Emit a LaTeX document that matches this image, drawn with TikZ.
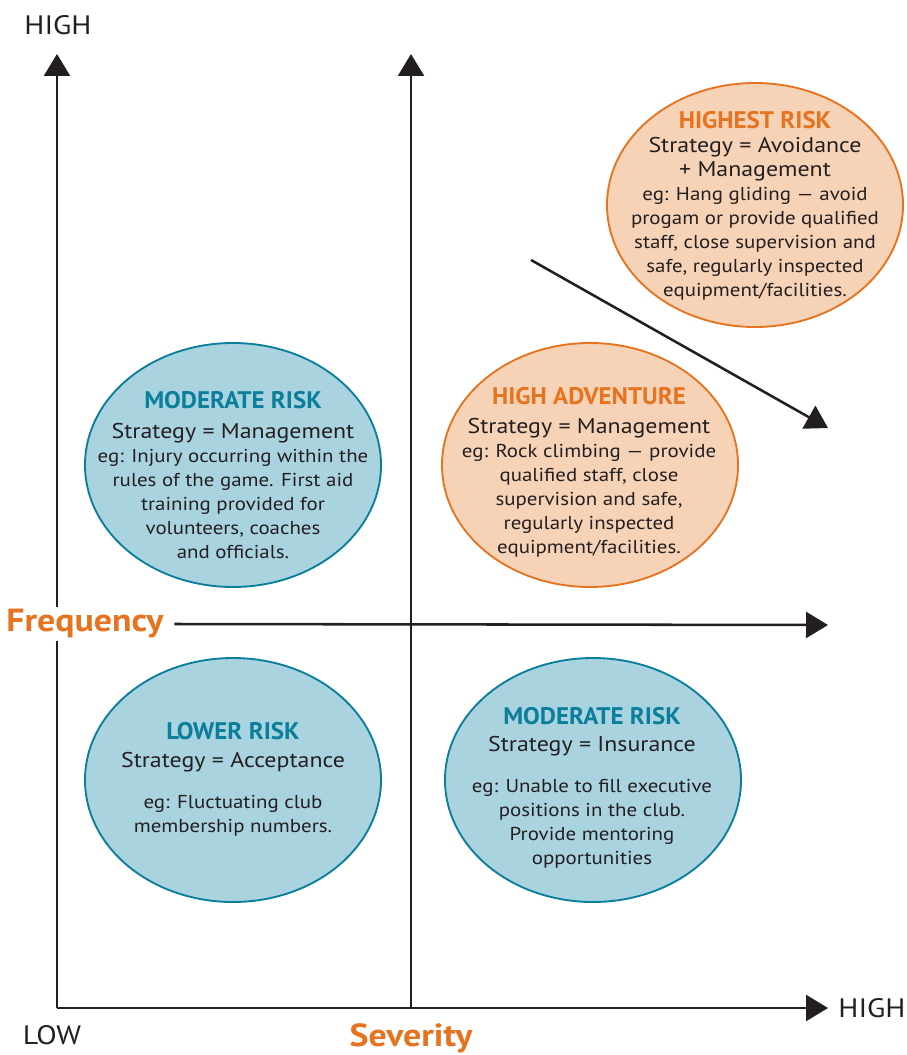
\documentclass[tikz,border=0pt]{standalone}
\usepackage{fontspec}
\setmainfont{PT Sans}[FakeStretch=1.12]
\newfontfamily\headfont{PT Sans}[FakeStretch=1.04]
\usetikzlibrary{shapes.geometric,arrows.meta}

\definecolor{zoneblue}{RGB}{170,211,224}
\definecolor{zonebluedark}{RGB}{10,126,155}
\definecolor{zoneorange}{RGB}{246,211,182}
\definecolor{zoneorangedark}{RGB}{229,115,31}
\definecolor{inkdark}{RGB}{35,31,32}

\newcommand{\headtxt}[1]{{\headfont\fontsize{18}{20}\selectfont\bfseries #1}}
\newcommand{\stratxt}[1]{{\fontsize{16}{19}\selectfont #1}}

\tikzset{
  riskblob/.style={ellipse, minimum width=222pt, minimum height=183pt, inner sep=0pt, line width=1.4pt},
  bluezone/.style={riskblob, fill=zoneblue, draw=zonebluedark},
  orangezone/.style={riskblob, fill=zoneorange, draw=zoneorangedark},
  zonetext/.style={align=center, text=inkdark, font=\fontsize{14}{18}\selectfont, inner sep=0pt},
  axisline/.style={draw=inkdark, line width=1.9pt, -{Triangle[length=16.5pt,width=19.5pt]}},
  endlabel/.style={text=inkdark, font=\fontsize{20}{22}\selectfont, inner sep=0pt},
  axistitle/.style={text=zoneorangedark, font=\fontsize{24}{26}\selectfont\bfseries, inner sep=2pt}
}

\begin{document}
\begin{tikzpicture}[x=0.75pt,y=0.75pt,yscale=-1,xscale=1]
    \useasboundingbox (0,0) rectangle (906,1055);

    % Axes points
    \coordinate (origin) at (57,1008);
    \coordinate (midbase) at (411,1008);
    \coordinate (freqtip) at (57,54);
    \coordinate (midtip) at (411,54);
    \coordinate (sevtip) at (828,1008);
    \coordinate (crosstip) at (828,625);
    \coordinate (trendstart) at (531,260);
    \coordinate (trendend) at (828,428);

    % Zones
    \node[bluezone] (moderatetop) at (233,465) {};
    \node[bluezone] (lowerrisk) at (233,780) {};
    \node[orangezone] (highadventure) at (590,465) {};
    \node[bluezone] (moderatelow) at (593,780) {};
    \node[orangezone] (highestrisk) at (755,205) {};

    % Axes
    \draw[axisline] (origin) -- (freqtip);
    \draw[axisline] (midbase) -- (midtip);
    \draw[axisline] (origin) -- (sevtip);
    \node[axistitle, fill=white] (frequency) at (85,624) {Frequency};
    \draw[axisline] (frequency.east) ++(8,0) coordinate (crossstart) (crossstart) -- (crosstip);
    \draw[axisline] (trendstart) -- (trendend);

    % Axis labels
    \node[endlabel] (highfreq) at (58,25) {HIGH};
    \node[endlabel] (lowlabel) at (52,1035) {LOW};
    \node[endlabel] (highsev) at (872,1008) {HIGH};
    \node[axistitle] (severity) at (411,1038) {Severity};

    % Zone texts
    \node[zonetext] (highesttxt) at (755,206) {\headtxt{\textcolor{zoneorangedark}{HIGHEST RISK}}\\
      \stratxt{Strategy = Avoidance}\\
      \stratxt{+ Management}\\
      eg: Hang gliding — avoid\\
      progam or provide qualified\\
      staff, close supervision and\\
      safe, regularly inspected\\
      equipment/facilities.};
    \node[zonetext] (moderatetoptxt) at (233,475) {\headtxt{\textcolor{zonebluedark}{MODERATE RISK}}\\[4pt]
      \stratxt{Strategy = Management}\\
      eg: Injury occurring within the\\
      rules of the game. First aid\\
      training provided for\\
      volunteers, coaches\\
      and officials.};
    \node[zonetext] (adventuretxt) at (589,472) {\headtxt{\textcolor{zoneorangedark}{HIGH ADVENTURE}}\\[4pt]
      \stratxt{Strategy = Management}\\
      eg: Rock climbing — provide\\
      qualified staff, close\\
      supervision and safe,\\
      regularly inspected\\
      equipment/facilities.};
    \node[zonetext] (lowertxt) at (233,779) {\headtxt{\textcolor{zonebluedark}{LOWER RISK}}\\[3pt]
      \stratxt{Strategy = Acceptance}\\[13pt]
      eg: Fluctuating club\\
      membership numbers.};
    \node[zonetext] (moderatelowtxt) at (592,788) {\headtxt{\textcolor{zonebluedark}{MODERATE RISK}}\\[2pt]
      \stratxt{Strategy = Insurance}\\[13pt]
      eg: Unable to fill executive\\
      positions in the club.\\
      Provide mentoring\\
      opportunities};

\end{tikzpicture}
\end{document}
